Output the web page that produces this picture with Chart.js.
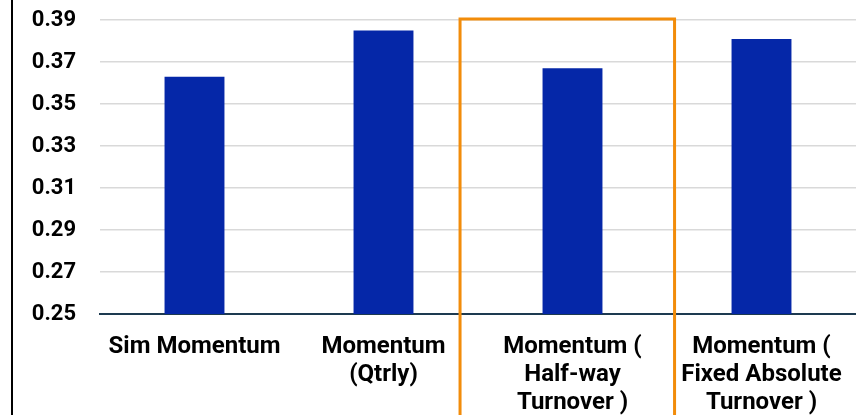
<!DOCTYPE html>
<html>
<head>
<meta charset="utf-8">
<script src="https://cdn.jsdelivr.net/npm/chart.js@4/dist/chart.umd.min.js"></script>
<style>
  html, body { margin: 0; padding: 0; background: #fff; }
  #wrap { width: 856px; height: 415px; position: relative; }
</style>
</head>
<body>
<div id="wrap"><canvas id="c" width="856" height="415"></canvas></div>
<script>
// Categories (multi-line labels) and values
const categories = [
  ['Sim Momentum'],
  ['Momentum', '(Qtrly)'],
  ['Momentum (', 'Half-way', 'Turnover )'],
  ['Momentum (', 'Fixed Absolute', 'Turnover )']
];
const values = [0.363, 0.385, 0.367, 0.381];
const yTicks = [0.25, 0.27, 0.29, 0.31, 0.33, 0.35, 0.37, 0.39];
const highlightIndex = 2;

const FONT = 'Roboto, "Liberation Sans", Arial, sans-serif';

// Frame line on the left edge and highlight box around one category
const decorations = {
  id: 'decorations',
  afterDatasetsDraw(chart) {
    const { ctx } = chart;
    const x = chart.scales.x, y = chart.scales.y;
    ctx.save();
    // left frame line
    ctx.strokeStyle = '#000';
    ctx.lineWidth = 2;
    ctx.beginPath();
    ctx.moveTo(12, 0);
    ctx.lineTo(12, chart.height);
    ctx.stroke();
    // highlight box
    const cw = (x.right - x.left) / categories.length;
    const cx = x.getPixelForValue(highlightIndex);
    const left = cx - 0.595 * cw;
    const right = cx + 0.54 * cw;
    const top = y.getPixelForValue(yTicks[yTicks.length - 1]) - 1;
    ctx.strokeStyle = '#F28C0A';
    ctx.lineWidth = 3;
    ctx.beginPath();
    ctx.moveTo(left, chart.height + 5);
    ctx.lineTo(left, top);
    ctx.lineTo(right, top);
    ctx.lineTo(right, chart.height + 5);
    ctx.stroke();
    ctx.restore();
  }
};

new Chart(document.getElementById('c'), {
  type: 'bar',
  data: {
    labels: categories,
    datasets: [{
      data: values,
      backgroundColor: '#0527A8',
      borderWidth: 0,
      barPercentage: 0.317,
      categoryPercentage: 1
    }]
  },
  options: {
    responsive: false,
    animation: false,
    layout: { padding: { top: 20, right: 0, bottom: 0, left: 0 } },
    plugins: { legend: { display: false }, tooltip: { enabled: false } },
    scales: {
      x: {
        afterFit(scale) {
          scale.height = 101;
          scale.paddingLeft = 0;
          scale.paddingRight = 0;
        },
        grid: { display: false, drawTicks: false },
        border: { display: true, color: '#1D3A50', width: 2 },
        ticks: {
          color: '#000',
          padding: 19,
          maxRotation: 0,
          autoSkip: false,
          font: { family: FONT, size: 24, weight: 'bold', lineHeight: '28px' }
        }
      },
      y: {
        min: yTicks[0],
        max: yTicks[yTicks.length - 1],
        afterBuildTicks(scale) { scale.ticks = yTicks.map(v => ({ value: v })); },
        afterFit(scale) {
          scale.width = 100;
          scale.paddingTop = 0;
          scale.paddingBottom = 0;
        },
        grid: { color: '#D9D9D9', lineWidth: 1.5, drawTicks: false },
        border: { display: false },
        ticks: {
          color: '#000',
          padding: 24,
          font: { family: FONT, size: 22, weight: 'bold' },
          callback: v => Number(v).toFixed(2)
        }
      }
    }
  },
  plugins: [decorations]
});
</script>
</body>
</html>
